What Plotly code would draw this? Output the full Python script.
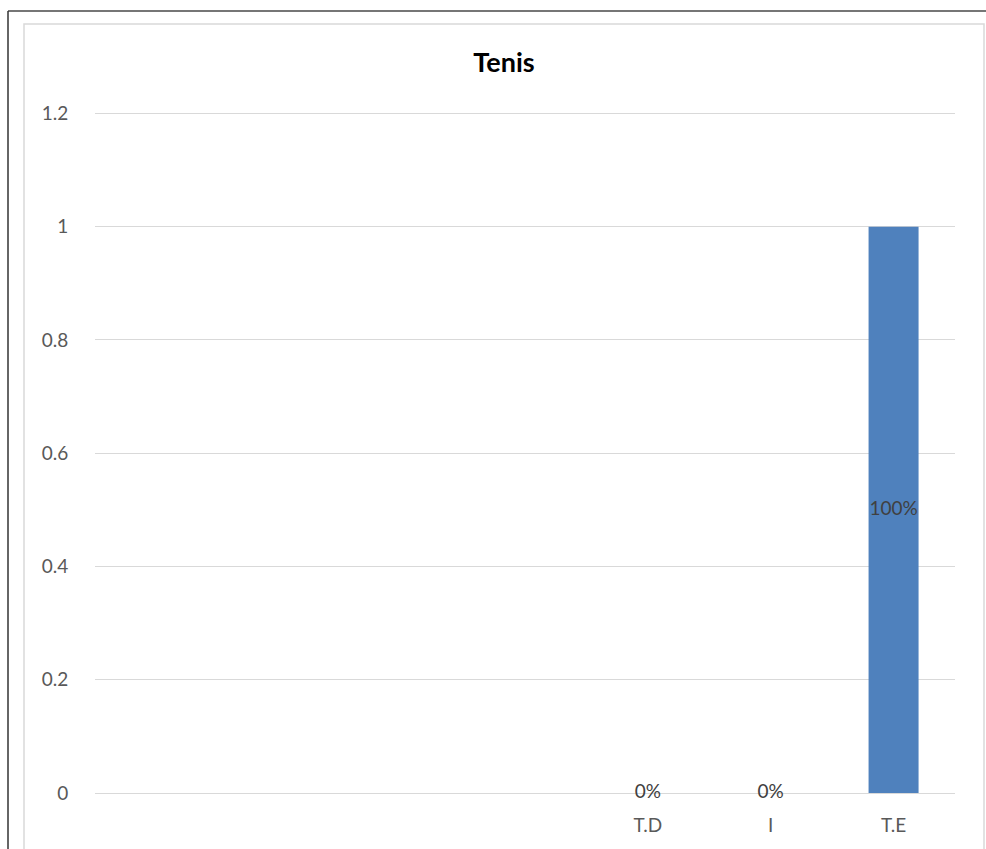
import plotly.graph_objects as go

# Data
categories = ["", "", "", "", "T.D", "I", "T.E"]
values = [None, None, None, None, 0, 0, 1]
value_labels = ["", "", "", "", "0%", "0%", "100%"]
y_ticks = [0, 0.2, 0.4, 0.6, 0.8, 1, 1.2]
y_tick_labels = ["0", "0.2", "0.4", "0.6", "0.8", "1", "1.2"]

positions = list(range(len(categories)))

W, H = 986, 849
L, R, T, B = 95, 31, 111, 56
PW, PH = W - L - R, H - T - B

def px_x(p):
    return (p - L) / PW

def px_y(p):
    return (H - B - p) / PH

font_family = "Lato, Open Sans, sans-serif"

fig = go.Figure()
fig.add_trace(go.Bar(
    x=positions, y=values, width=0.407,
    marker=dict(color="#4f81bd", line=dict(width=0)),
    hoverinfo="skip", showlegend=False,
))
lab_x = [p for p, v in zip(positions, values) if v is not None]
lab_y = [v / 2 for v in values if v is not None]
lab_t = [t for t, v in zip(value_labels, values) if v is not None]
fig.add_trace(go.Scatter(
    x=lab_x, y=lab_y, text=lab_t, mode="text", cliponaxis=False,
    textfont=dict(family=font_family, size=19, color="#404040"),
    textposition="middle center", hoverinfo="skip", showlegend=False,
))

fig.update_layout(
    width=W, height=H,
    margin=dict(l=L, r=R, t=T, b=B, autoexpand=False),
    paper_bgcolor="white", plot_bgcolor="white",
    title=dict(text="<b>Tenis</b>", x=504 / W, xref="container", xanchor="center",
               y=1 - 63 / H, yref="container", yanchor="middle",
               font=dict(family=font_family, size=27, color="#000000")),
    xaxis=dict(
        range=[-0.5, len(categories) - 0.5],
        tickvals=positions, ticktext=categories,
        showgrid=False, zeroline=False, showline=False,
        ticks="outside", ticklen=15, tickcolor="rgba(0,0,0,0)",
        tickfont=dict(family=font_family, size=19, color="#595959"),
        fixedrange=True,
    ),
    yaxis=dict(
        range=[0, 1.2042],
        tickvals=y_ticks, ticktext=y_tick_labels,
        showgrid=True, gridcolor="#d9d9d9", gridwidth=1.3,
        zeroline=True, zerolinecolor="#d9d9d9", zerolinewidth=1.3,
        showline=False,
        ticks="outside", ticklen=22, tickcolor="rgba(0,0,0,0)",
        tickfont=dict(family=font_family, size=19, color="#595959"),
        fixedrange=True,
    ),
    shapes=[
        dict(type="rect", xref="paper", yref="paper",
             x0=px_x(24), x1=px_x(984), y0=px_y(870), y1=px_y(24),
             line=dict(color="#d9d9d9", width=1.5), layer="below"),
        dict(type="line", xref="paper", yref="paper",
             x0=px_x(8), x1=px_x(1000), y0=px_y(11), y1=px_y(11),
             line=dict(color="#767676", width=2)),
        dict(type="line", xref="paper", yref="paper",
             x0=px_x(8), x1=px_x(8), y0=px_y(11), y1=px_y(870),
             line=dict(color="#333333", width=1.5)),
    ],
)

fig.write_html("out.html", config={"displayModeBar": False},
               post_script="document.body.style.margin='0';document.body.style.overflow='hidden';")
